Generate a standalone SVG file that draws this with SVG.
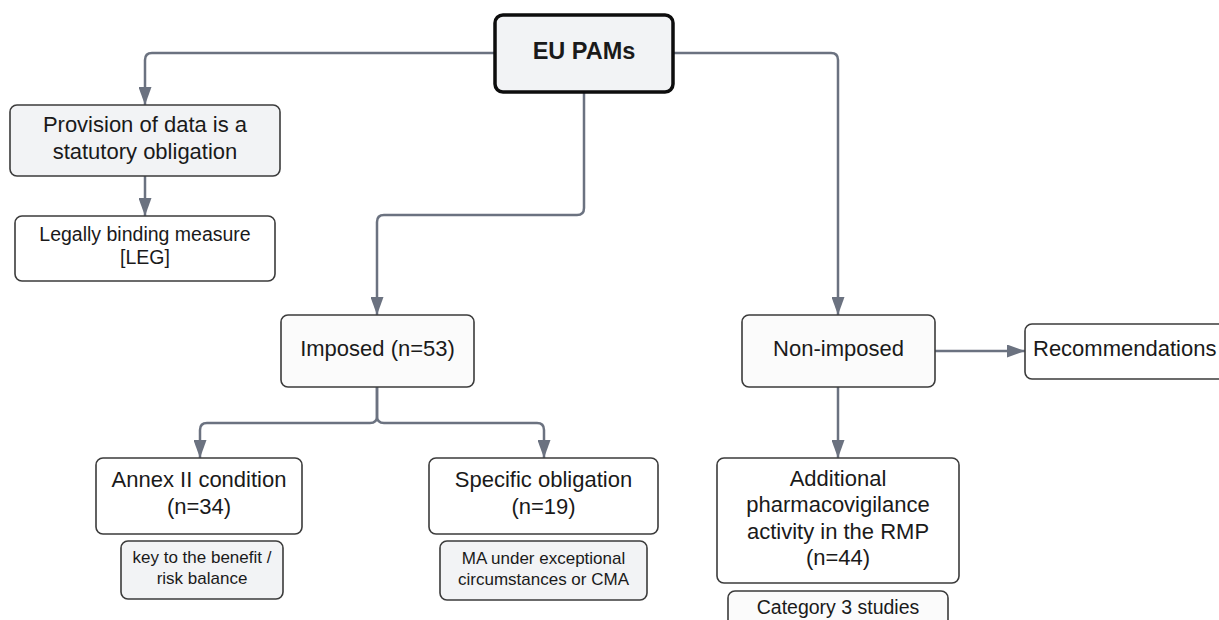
<svg xmlns="http://www.w3.org/2000/svg" width="1219" height="620" viewBox="0 0 1219 620">
<defs>
<marker id="arr" markerUnits="userSpaceOnUse" markerWidth="18" markerHeight="13" viewBox="0 0 18 13" refX="18" refY="6.5" orient="auto">
<path d="M0,0 L18,6.5 L0,13 z" fill="#6b7280"/>
</marker>
<style>
.box{fill:#ffffff;stroke:#3b3b3b;stroke-width:1.6}
.grey{fill:#f2f3f5}
.light{fill:#fbfbfb}
.main{fill:#f2f3f5;stroke:#0d0d0d;stroke-width:3.5}
.t{font-family:"Liberation Sans",Arial,sans-serif;fill:#1a1a1a;text-anchor:middle}
.l{font-size:22px}
.m{font-size:19.5px}
.s{font-size:17px}
.conn{fill:none;stroke:#6b7280;stroke-width:2.5}
</style>
</defs>
<rect width="1219" height="620" fill="#ffffff"/>
<g id="connectors">
<path class="conn" d="M495,53 H152 Q145,53 145,60 V105" marker-end="url(#arr)"/>
<path class="conn" d="M145,176 V216" marker-end="url(#arr)"/>
<path class="conn" d="M584,92 V208 Q584,215 577,215 H384 Q377,215 377,222 V315" marker-end="url(#arr)"/>
<path class="conn" d="M673,53 H831 Q838,53 838,60 V315" marker-end="url(#arr)"/>
<path class="conn" d="M377,387 V416 Q377,423 370,423 H207 Q200,423 200,430 V458" marker-end="url(#arr)"/>
<path class="conn" d="M377,387 V416 Q377,423 384,423 H537 Q544,423 544,430 V458" marker-end="url(#arr)"/>
<path class="conn" d="M935,351 H1025" marker-end="url(#arr)"/>
<path class="conn" d="M838,387 V458" marker-end="url(#arr)"/>
</g>
<g id="eu-pams">
<rect class="main" x="495" y="15" width="178" height="77" rx="8"/>
<text class="t" x="584" y="59" font-size="23.5" font-weight="bold">EU PAMs</text>
</g>
<g id="provision">
<rect class="box grey" x="10" y="105" width="270" height="71" rx="7"/>
<text class="t l" x="145" y="132">Provision of data is a</text>
<text class="t l" x="145" y="159">statutory obligation</text>
</g>
<g id="legally">
<rect class="box" x="15" y="216" width="260" height="65" rx="7"/>
<text class="t m" x="145" y="241">Legally binding measure</text>
<text class="t m" x="145" y="264">[LEG]</text>
</g>
<g id="imposed">
<rect class="box light" x="281" y="315" width="193" height="72" rx="7"/>
<text class="t l" x="377.5" y="356">Imposed (n=53)</text>
</g>
<g id="non-imposed">
<rect class="box light" x="742" y="315" width="193" height="72" rx="7"/>
<text class="t l" x="838.5" y="356">Non-imposed</text>
</g>
<g id="recommendations">
<rect class="box" x="1025" y="324" width="210" height="55" rx="7"/>
<text class="t l" x="1033" y="356" style="text-anchor:start">Recommendations</text>
</g>
<g id="annex">
<rect class="box" x="96" y="458" width="206" height="76" rx="7"/>
<text class="t l" x="199" y="487">Annex II condition</text>
<text class="t l" x="199" y="514">(n=34)</text>
</g>
<g id="key">
<rect class="box grey" x="121" y="541" width="162" height="58" rx="7"/>
<text class="t s" x="202" y="563">key to the benefit /</text>
<text class="t s" x="202" y="584">risk balance</text>
</g>
<g id="specific">
<rect class="box" x="429" y="458" width="229" height="76" rx="7"/>
<text class="t l" x="543.5" y="487">Specific obligation</text>
<text class="t l" x="543.5" y="514">(n=19)</text>
</g>
<g id="ma">
<rect class="box grey" x="440" y="541" width="207" height="59" rx="7"/>
<text class="t s" x="543.5" y="564">MA under exceptional</text>
<text class="t s" x="543.5" y="585">circumstances or CMA</text>
</g>
<g id="additional">
<rect class="box" x="717" y="458" width="242" height="125" rx="7"/>
<text class="t l" x="838" y="486">Additional</text>
<text class="t l" x="838" y="512">pharmacovigilance</text>
<text class="t l" x="838" y="539">activity in the RMP</text>
<text class="t l" x="838" y="565">(n=44)</text>
</g>
<g id="category">
<rect class="box light" x="728" y="591" width="220" height="45" rx="7"/>
<text class="t m" x="838" y="614">Category 3 studies</text>
</g>
</svg>
